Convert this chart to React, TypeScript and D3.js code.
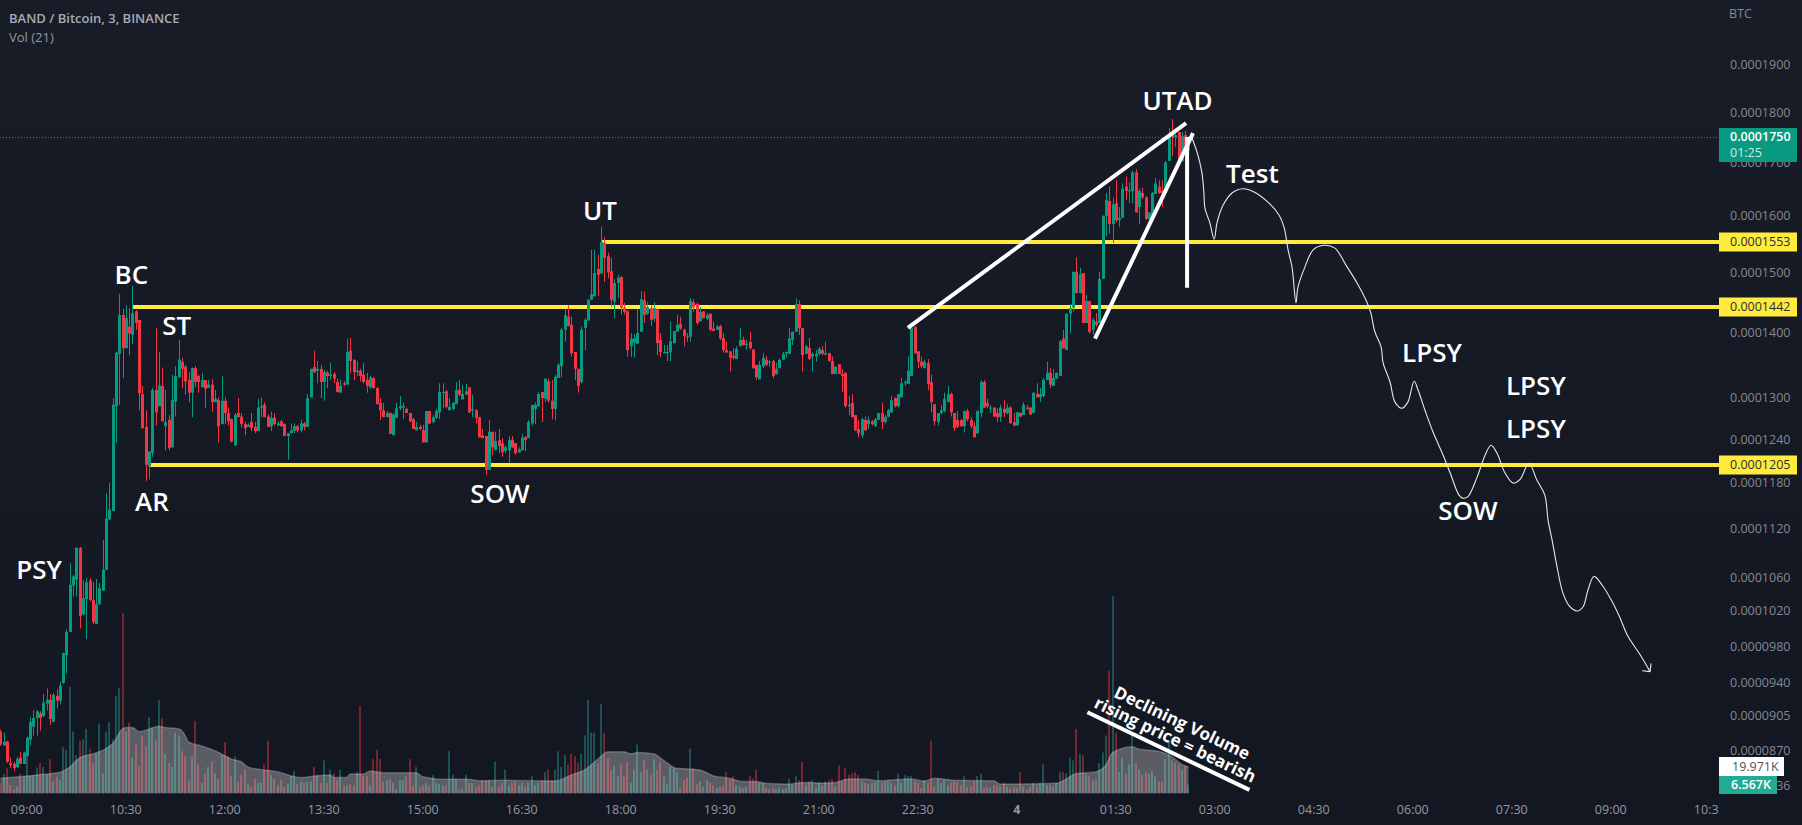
import { useEffect, useRef } from 'react';
import * as d3 from 'd3';

type Bar = [number, number, number, number];

const WIDTH = 1802;
const HEIGHT = 825;
const AXIS_X = 1719;

// prices are in units of 0.0000001 BTC, bars read as [open, high, low, close]
const barsA: Bar[] = [
  [889,891,875,876],[875,888,875,879],[879,880,858,859],[858,863,853,856],[857,859,850,853],
  [854,864,853,862],[863,869,857,857],[857,869,857,868],[865,884,864,883],[881,904,875,899],
  [894,911,885,903],[903,911,885,910],[908,910,890,903],[905,928,904,919],[918,934,911,922],
  [922,928,896,902],[899,929,899,927],[926,933,913,921],[921,941,917,937],[940,973,939,972],
  [970,999,950,996],[996,1077,996,1051],[1050,1063,1037,1061],[1057,1097,1037,1096],[1096,1097,1000,1014],
  [1016,1057,1015,1035],[1034,1059,988,1054],[1056,1059,1031,1033],[1033,1054,1005,1007],[1005,1058,1005,1028],
  [1028,1053,1027,1047],[1044,1106,1044,1069],[1069,1167,1069,1133],[1132,1180,1132,1145],[1143,1300,1143,1290],
  [1288,1370,1235,1369],[1367,1464,1290,1429],[1429,1439,1330,1376],[1376,1445,1376,1424],[1410,1440,1365,1399],
  [1397,1477,1383,1432],[1435,1437,1405,1416],[1421,1421,1282,1307],[1306,1318,1256,1256],[1258,1282,1183,1205],
  [1203,1224,1185,1223],[1221,1315,1216,1312],[1312,1408,1260,1279],[1288,1370,1288,1319],[1318,1346,1266,1266],
];
const barsB: Bar[] = [
  [1259,1312,1225,1265],[1268,1275,1225,1228],[1229,1335,1229,1297],[1295,1348,1273,1333],[1331,1389,1331,1358],
  [1355,1361,1315,1344],[1347,1350,1305,1325],[1327,1339,1294,1308],[1308,1346,1272,1345],[1345,1348,1316,1324],
  [1333,1335,1308,1324],[1316,1338,1316,1327],[1327,1327,1286,1314],[1315,1327,1315,1320],[1320,1328,1280,1294],
  [1294,1312,1294,1299],[1297,1301,1236,1259],[1262,1333,1262,1296],[1296,1301,1262,1278],[1278,1286,1260,1266],
  [1269,1270,1236,1237],[1232,1278,1231,1275],[1278,1300,1272,1272],[1273,1278,1257,1262],[1262,1265,1246,1256],
  [1258,1263,1258,1261],[1265,1278,1252,1256],[1258,1265,1249,1252],[1252,1299,1252,1286],[1286,1301,1272,1288],
  [1290,1294,1272,1272],[1273,1276,1258,1258],[1259,1280,1252,1271],[1271,1278,1260,1262],[1260,1266,1259,1263],
  [1266,1268,1258,1259],[1262,1263,1245,1245],[1245,1249,1212,1249],[1249,1263,1249,1253],[1252,1263,1249,1259],
  [1259,1261,1250,1253],[1253,1268,1250,1263],[1263,1265,1253,1258],[1258,1306,1258,1300],[1301,1344,1301,1344],
  [1347,1372,1337,1339],[1341,1356,1322,1344],[1344,1350,1300,1324],[1324,1342,1296,1339],[1338,1341,1315,1333],
];
const barsC: Bar[] = [
  [1333,1353,1327,1335],[1336,1339,1322,1329],[1324,1329,1308,1309],[1308,1327,1308,1318],[1322,1325,1318,1320],
  [1320,1391,1320,1370],[1372,1392,1337,1356],[1358,1358,1327,1339],[1339,1356,1333,1341],[1341,1344,1325,1333],
  [1335,1353,1322,1324],[1327,1338,1308,1318],[1316,1333,1314,1331],[1330,1331,1314,1315],[1315,1316,1291,1291],
  [1293,1300,1268,1282],[1282,1293,1272,1272],[1272,1281,1272,1278],[1278,1279,1248,1248],[1246,1278,1246,1276],
  [1271,1293,1271,1285],[1285,1303,1282,1288],[1286,1293,1269,1288],[1284,1286,1278,1278],[1278,1278,1265,1266],
  [1269,1271,1255,1255],[1253,1265,1253,1258],[1258,1261,1253,1255],[1253,1261,1236,1236],[1236,1281,1236,1281],
  [1281,1281,1262,1263],[1265,1275,1263,1272],[1271,1284,1269,1281],[1279,1322,1269,1309],[1308,1322,1285,1309],
  [1310,1312,1285,1287],[1282,1300,1282,1287],[1284,1294,1282,1293],[1291,1324,1291,1312],[1312,1327,1303,1305],
  [1298,1320,1298,1306],[1305,1321,1305,1310],[1316,1316,1278,1279],[1282,1305,1272,1284],[1282,1284,1263,1271],
  [1272,1272,1243,1243],[1246,1255,1242,1242],[1245,1245,1191,1198],[1198,1268,1198,1251],[1251,1251,1218,1229],
];
const barsD: Bar[] = [
  [1225,1251,1225,1238],[1239,1255,1221,1231],[1235,1242,1216,1222],[1224,1232,1221,1229],[1225,1245,1207,1239],
  [1240,1245,1228,1229],[1235,1235,1219,1221],[1222,1229,1221,1226],[1225,1248,1225,1243],[1243,1245,1224,1239],
  [1242,1268,1242,1265],[1263,1290,1260,1290],[1284,1294,1262,1290],[1288,1309,1287,1306],[1309,1309,1265,1300],
  [1299,1330,1294,1329],[1325,1329,1293,1296],[1296,1327,1269,1284],[1284,1335,1268,1332],[1330,1353,1330,1350],
  [1348,1408,1331,1405],[1405,1439,1386,1429],[1426,1445,1411,1411],[1413,1426,1363,1368],[1370,1370,1327,1344],
  [1344,1344,1308,1318],[1324,1410,1322,1405],[1408,1424,1373,1421],[1420,1455,1420,1454],[1454,1539,1454,1463],
  [1460,1539,1459,1499],[1506,1530,1460,1496],[1498,1580,1498,1553],[1551,1562,1484,1525],[1528,1534,1490,1500],
  [1502,1525,1442,1454],[1451,1489,1424,1482],[1482,1496,1457,1491],[1492,1494,1430,1441],[1441,1449,1430,1434],
  [1435,1437,1363,1373],[1379,1400,1362,1391],[1385,1398,1361,1391],[1383,1439,1383,1400],[1402,1468,1402,1455],
  [1453,1468,1416,1429],[1431,1450,1429,1442],[1440,1445,1411,1421],[1423,1450,1418,1440],[1438,1438,1365,1384],
];
const barsE: Bar[] = [
  [1389,1400,1362,1370],[1368,1381,1368,1370],[1369,1381,1356,1370],[1370,1418,1356,1387],[1384,1403,1383,1403],
  [1402,1429,1402,1413],[1415,1426,1405,1407],[1405,1407,1379,1395],[1394,1400,1386,1393],[1394,1457,1386,1452],
  [1450,1455,1434,1441],[1447,1449,1413,1416],[1419,1442,1418,1434],[1435,1435,1423,1424],[1423,1432,1421,1429],
  [1431,1431,1403,1405],[1407,1418,1403,1403],[1405,1413,1405,1410],[1411,1413,1389,1391],[1392,1400,1369,1373],
  [1373,1386,1369,1369],[1371,1371,1340,1361],[1364,1376,1358,1361],[1359,1379,1359,1375],[1379,1408,1379,1389],
  [1389,1394,1380,1381],[1381,1389,1373,1383],[1386,1402,1374,1376],[1374,1374,1344,1345],[1350,1350,1327,1331],
  [1328,1356,1328,1350],[1348,1368,1345,1361],[1358,1364,1348,1350],[1354,1358,1347,1355],[1356,1358,1330,1333],
  [1336,1353,1335,1344],[1345,1359,1345,1358],[1358,1370,1358,1367],[1368,1371,1361,1370],[1367,1408,1367,1391],
  [1389,1402,1381,1402],[1402,1456,1402,1447],[1447,1453,1397,1408],[1408,1408,1340,1365],[1367,1381,1367,1379],
  [1376,1392,1358,1359],[1363,1369,1340,1367],[1363,1373,1355,1367],[1367,1378,1365,1375],[1373,1379,1365,1367],
];
const barsF: Bar[] = [
  [1366,1386,1365,1368],[1368,1368,1355,1356],[1356,1363,1336,1336],[1336,1348,1336,1347],[1351,1351,1336,1336],
  [1336,1344,1309,1333],[1338,1338,1286,1288],[1290,1303,1275,1288],[1293,1306,1272,1272],[1275,1275,1252,1253],
  [1255,1268,1243,1249],[1246,1271,1242,1269],[1268,1273,1253,1253],[1262,1273,1255,1268],[1266,1268,1260,1262],
  [1259,1271,1258,1269],[1268,1278,1268,1278],[1278,1293,1255,1265],[1265,1275,1263,1272],[1272,1284,1272,1282],
  [1279,1303,1278,1297],[1300,1301,1286,1288],[1288,1306,1286,1306],[1301,1330,1301,1322],[1322,1327,1318,1324],
  [1321,1363,1321,1341],[1333,1411,1333,1408],[1410,1410,1367,1368],[1371,1371,1345,1355],[1355,1363,1345,1348],
  [1345,1358,1345,1355],[1353,1359,1312,1321],[1324,1335,1279,1294],[1291,1291,1260,1266],[1265,1278,1260,1278],
  [1278,1290,1276,1282],[1281,1308,1279,1299],[1294,1318,1294,1306],[1306,1308,1273,1279],[1278,1278,1252,1256],
  [1268,1281,1256,1258],[1268,1269,1258,1259],[1259,1282,1250,1281],[1281,1284,1266,1269],[1268,1272,1256,1259],
  [1259,1265,1243,1243],[1249,1282,1248,1281],[1278,1327,1272,1324],[1324,1327,1286,1286],[1293,1299,1285,1288],
];
const barsG: Bar[] = [
  [1285,1290,1278,1286],[1286,1286,1272,1273],[1278,1285,1265,1272],[1272,1290,1265,1286],[1284,1297,1272,1278],
  [1278,1291,1276,1286],[1286,1288,1263,1263],[1265,1278,1259,1260],[1260,1279,1260,1279],[1278,1279,1272,1273],
  [1275,1294,1275,1290],[1286,1290,1282,1284],[1286,1286,1275,1276],[1278,1308,1278,1308],[1306,1322,1301,1301],
  [1301,1315,1294,1306],[1303,1330,1301,1327],[1327,1355,1327,1338],[1338,1345,1315,1320],[1318,1344,1318,1330],
  [1329,1338,1329,1338],[1333,1389,1333,1387],[1391,1405,1375,1376],[1373,1432,1373,1431],[1431,1447,1400,1440],
  [1441,1501,1434,1501],[1501,1526,1465,1465],[1465,1508,1465,1497],[1499,1499,1416,1416],[1416,1462,1416,1452],
  [1452,1452,1399,1402],[1405,1424,1397,1421],[1418,1432,1410,1413],[1416,1501,1416,1489],[1489,1600,1489,1600],
  [1600,1642,1563,1629],[1627,1654,1568,1585],[1585,1633,1551,1621],[1623,1666,1588,1592],[1592,1616,1579,1596],
  [1596,1660,1596,1650],[1654,1673,1629,1646],[1645,1662,1623,1647],[1645,1685,1623,1681],[1681,1687,1606,1606],
  [1616,1650,1585,1646],[1642,1652,1631,1634],[1634,1636,1592,1594],[1594,1606,1592,1606],[1596,1644,1592,1642],
  [1640,1670,1640,1660],[1654,1666,1640,1642],[1646,1666,1616,1642],[1642,1703,1640,1700],[1703,1768,1703,1754],
  [1758,1786,1712,1750],[1750,1760,1730,1754],[1760,1760,1695,1705],[1703,1760,1701,1752],[1754,1762,1720,1722],
  [1724,1752,1720,1750],
];

// volume per bar, in thousands
const volumeK = [
  7.6,14.7,19,6.3,3,5,14.7,12.6,33.6,13.9,13.9,19.5,23,20,14,26,9,12.6,10,35,33,81,47,29,40,41,49,34,23,30,
  53,15,47,54,41,74,80,137,47,54,27,37,21,44,36,58,50,40,71,57,30,23,20,46,44,32,28,10,28,55,
  22,8,15,20,24,15,11,29,39,28,13,28,9,14,18,7,5,11,8,8,22,40,14,11,6,10,5,7,13,17,
  7,9,8,9,9,20,14,8,25,8,18,15,10,18,6,6,7,6,16,66,13,13,6,26,33,26,9,10,11,8,
  3,10,10,13,26,6,20,5,6,8,6,14,8,7,6,6,32,14,11,3,3,14,8,8,5,6,10,10,10,5,
  24,5,8,18,6,8,9,6,8,5,8,13,6,8,10,16,18,10,18,32,20,29,22,30,28,23,30,44,71,46,
  46,23,68,46,27,18,21,13,22,13,24,8,18,37,16,25,18,14,26,18,24,13,7,20,19,16,4,10,12,34,
  19,7,9,5,10,8,6,4,5,5,16,10,13,6,5,4,5,13,11,18,8,8,4,3,4,3,4,3,4,11,
  6,13,10,24,6,9,10,4,8,6,9,10,11,5,21,9,19,14,15,16,14,9,8,7,8,9,17,8,9,10,
  8,6,15,8,14,13,13,9,8,4,10,8,40,5,11,8,10,6,8,9,9,6,13,5,6,9,13,15,4,5,
  4,6,6,5,8,5,4,5,4,16,5,3,5,8,6,8,22,6,6,5,8,16,16,15,27,25,49,30,29,14,
  13,10,11,23,31,44,93,150,46,16,27,15,22,44,23,18,14,16,15,17,13,9,9,26,40,25,23,22,18,21,
  6.6,
];

// Vol SMA(21) outline as [bar, thousands]
const smaVolume = [
  [0,11.4],[9,13.4],[13,14.4],[18,16],[21,20],[24,27],[28,30],[32,34],[35,41],[36,46],[38,50],[40,50],[42,47],[44,48],
  [48,51],[50,50],[54,49],[56,44],[57,39],[61,36],[64,33.4],[67,30],[70,26],[73,24],[75,20],[79,18],[84,16.4],[88,13.4],
  [91,12],[96,13.4],[100,14],[101,12],[105,12],[106,14.7],[110,14.7],[112,17],[116,15.7],[122,15.7],[126,15.7],[128,12.6],
  [131,11.4],[133,10.6],[142,10.6],[145,9.6],[152,10],[168,9.4],[173,14],[177,17.7],[182,28],[184,31.6],[189,31.6],[191,30],
  [193,31],[198,30],[201,25],[205,19],[209,18.5],[212,17.7],[216,13.4],[221,11.4],[225,8.9],[229,8.9],[232,7.6],[238,7],
  [244,8.3],[249,7.8],[253,8.3],[257,10.9],[262,10.9],[266,9.6],[276,10.9],[280,9.4],[283,11.4],[289,10],[301,9.6],[303,7],
  [320,7.6],[322,9.4],[326,15],[332,16.4],[335,21.5],[337,31],[343,35.4],[345,33.6],[351,32],[355,27.8],[358,22],[360,20],
];

const priceTicks = [1900, 1800, 1700, 1600, 1500, 1400, 1300, 1240, 1180, 1120, 1060, 1020, 980, 940, 905, 870, 836];
const timeTicks = ['09:00', '10:30', '12:00', '13:30', '15:00', '16:30', '18:00', '19:30', '21:00', '22:30', '4', '01:30', '03:00', '04:30', '06:00', '07:30', '09:00', '10:30'];

const levels = [
  { price: 1553, fromBar: 182 },
  { price: 1442, fromBar: 40.2 },
  { price: 1205, fromBar: 45.3 },
];

const wedgeLines = [
  [[275, 1408], [359.3, 1778]],
  [[331.7, 1391], [361.4, 1758]],
  [[359.6, 1750], [359.6, 1474]],
];
const volumeTrend = [[329.4, 909], [378.5, 832]];

const labels = [
  { text: 'PSY', bar: 11.7, price: 1058 },
  { text: 'BC', bar: 39.7, price: 1480 },
  { text: 'ST', bar: 53.4, price: 1397 },
  { text: 'AR', bar: 45.9, price: 1143 },
  { text: 'SOW', bar: 151.4, price: 1153 },
  { text: 'UT', bar: 181.7, price: 1592 },
  { text: 'UTAD', bar: 356.7, price: 1805 },
  { text: 'Test', bar: 379.4, price: 1660 },
  { text: 'LPSY', bar: 433.8, price: 1355 },
  { text: 'LPSY', bar: 465.3, price: 1304 },
  { text: 'LPSY', bar: 465.3, price: 1242 },
  { text: 'SOW', bar: 444.7, price: 1131 },
];

// hand drawn projection after the last bar, [bar, price]
const projection = [
  [361.1,1748],[362.9,1714],[364.1,1680],[364.7,1642],[365,1614],[366.5,1587],[367.8,1558],[368.7,1588],[370.5,1619],
  [373.2,1642],[376.5,1650],[379.9,1644],[384.1,1625],[387.5,1601],[389,1579],[390.2,1539],[391.4,1509],[392.6,1449],
  [393.2,1475],[395.3,1509],[397.8,1539],[401.1,1547],[404.4,1542],[407.8,1512],[411.1,1482],[414.1,1450],[415.3,1432],
  [416.5,1402],[418.4,1378],[419,1353],[421.1,1324],[422.6,1294],[424.7,1285],[426.5,1294],[428.4,1325],[429.6,1312],
  [431.7,1282],[434.1,1251],[437.2,1218],[439.3,1194],[442,1164],[443.2,1160],[444.7,1162],[447.4,1187],[449.9,1218],
  [451.7,1232],[453.5,1221],[455.9,1194],[458.4,1180],[460.5,1185],[463.2,1207],[465.6,1184],[468,1164],[469,1131],
  [470.2,1106],[471.7,1073],[473.5,1041],[475.6,1025],[477.8,1020],[479.6,1025],[481.1,1045],[482.9,1061],[485.3,1051],
  [488.4,1031],[490.8,1012],[493.2,991],[496.8,971],[499.9,952],
];
const arrowHead = [[497.5, 953], [499.9, 952], [500.2, 961]];

const UP = '#089981';
const DOWN = '#f23645';
const YELLOW = '#ffeb3b';
const AXIS_FONT = '"Open Sans", sans-serif';

export default function App() {
  const svgRef = useRef<SVGSVGElement>(null);

  useEffect(() => {
    if (!svgRef.current) return;
    const svg = d3.select(svgRef.current);
    svg.selectAll('*').remove();

    const bars = [...barsA, ...barsB, ...barsC, ...barsD, ...barsE, ...barsF, ...barsG].map((b, i) => ({
      i, open: b[0], high: b[1], low: b[2], close: b[3], volume: volumeK[i] ?? 0,
    }));

    const x = d3.scaleLinear().domain([0, 360]).range([0.4, 1188.4]);
    const y = d3.scaleLog().domain([1800, 870]).range([112.3, 750.7]);
    const yVol = d3.scaleLinear().domain([0, 150]).range([793.3, 596]);
    const colorOf = (d: { open: number; close: number }) => (d.close >= d.open ? UP : DOWN);
    const fmt = (v: number) => (v * 1e-7).toFixed(7);

    const defs = svg.append('defs');
    const grad = defs.append('linearGradient').attr('id', 'bg').attr('x1', 0).attr('x2', 0).attr('y1', 0).attr('y2', 1);
    grad.append('stop').attr('offset', '0%').attr('stop-color', '#181c27');
    grad.append('stop').attr('offset', '100%').attr('stop-color', '#131722');
    defs.append('clipPath').attr('id', 'pane').append('rect').attr('width', AXIS_X).attr('height', HEIGHT);

    svg.append('rect').attr('width', WIDTH).attr('height', HEIGHT).attr('fill', 'url(#bg)');

    // Last price line
    svg.append('line')
      .attr('x1', 0).attr('x2', AXIS_X)
      .attr('y1', Math.round(y(1750)) + 0.5).attr('y2', Math.round(y(1750)) + 0.5)
      .attr('stroke', UP).attr('stroke-dasharray', '1 2');

    // Volume
    svg.append('g').selectAll('rect').data(bars).enter().append('rect')
      .attr('x', d => Math.round(x(d.i)) - 1)
      .attr('width', 2)
      .attr('y', d => yVol(d.volume))
      .attr('height', d => yVol(0) - yVol(d.volume))
      .attr('fill', d => (d.close >= d.open ? 'rgba(38,166,154,0.42)' : 'rgba(242,54,69,0.45)'));

    const smaArea = d3.area<number[]>()
      .x(d => x(d[0])).y0(yVol(0)).y1(d => yVol(d[1]))
      .curve(d3.curveMonotoneX);
    svg.append('path').datum(smaVolume).attr('d', smaArea).attr('fill', 'rgba(255,255,255,0.3)');
    svg.append('path').datum(smaVolume)
      .attr('d', d3.line<number[]>().x(d => x(d[0])).y(d => yVol(d[1])).curve(d3.curveMonotoneX))
      .attr('fill', 'none').attr('stroke', 'rgba(255,255,255,0.22)').attr('stroke-width', 1.5);

    // Range levels sit behind the candles
    svg.append('g').selectAll('line').data(levels).enter().append('line')
      .attr('x1', d => x(d.fromBar)).attr('x2', AXIS_X)
      .attr('y1', d => Math.round(y(d.price))).attr('y2', d => Math.round(y(d.price)))
      .attr('stroke', YELLOW).attr('stroke-width', 4);

    // Candles
    const candle = svg.append('g').selectAll('g').data(bars).enter().append('g');
    candle.append('rect')
      .attr('x', d => Math.round(x(d.i)))
      .attr('width', 1)
      .attr('y', d => y(d.high))
      .attr('height', d => Math.max(1, y(d.low) - y(d.high)))
      .attr('fill', colorOf);
    candle.append('rect')
      .attr('x', d => Math.round(x(d.i)) - 1)
      .attr('width', 3)
      .attr('y', d => y(Math.max(d.open, d.close)))
      .attr('height', d => Math.max(1, Math.abs(y(d.open) - y(d.close))))
      .attr('fill', colorOf);

    // Drawings
    const pt = d3.line<number[]>().x(d => x(d[0])).y(d => y(d[1]));
    svg.append('g').selectAll('path').data([...wedgeLines, volumeTrend]).enter().append('path')
      .attr('d', d => pt(d))
      .attr('stroke', '#fff').attr('stroke-width', 4).attr('fill', 'none');

    svg.append('path').datum(projection)
      .attr('d', d3.line<number[]>().x(d => x(d[0])).y(d => y(d[1])).curve(d3.curveCatmullRom))
      .attr('fill', 'none').attr('stroke', '#e8e8ea').attr('stroke-width', 1.1);
    svg.append('path').datum(arrowHead).attr('d', pt)
      .attr('fill', 'none').attr('stroke', '#e8e8ea').attr('stroke-width', 1.1);

    svg.append('g').selectAll('text').data(labels).enter().append('text')
      .attr('x', d => x(d.bar)).attr('y', d => y(d.price))
      .attr('text-anchor', 'middle')
      .attr('fill', '#fff')
      .style('font-family', AXIS_FONT).style('font-size', '26px').style('font-weight', 600)
      .text(d => d.text);

    const noteText = [
      { text: 'Declining Volume', bar: 358.1, price: 898 },
      { text: 'rising price = bearish', bar: 356, price: 881 },
    ];
    svg.append('g').selectAll('text').data(noteText).enter().append('text')
      .attr('transform', d => `translate(${x(d.bar)},${y(d.price)}) rotate(25.5)`)
      .attr('text-anchor', 'middle')
      .attr('dy', '.35em')
      .attr('fill', '#fff')
      .style('font-family', AXIS_FONT).style('font-size', '17px').style('font-weight', 700)
      .text(d => d.text);

    // Price axis
    const axisText = (g: any) => g
      .style('font-family', AXIS_FONT).style('font-size', '12.5px');
    svg.append('g').selectAll('text').data(priceTicks).enter().append('text')
      .attr('x', 1730).attr('y', d => y(d)).attr('dy', '.35em')
      .attr('fill', '#858893')
      .call(axisText)
      .text(d => fmt(d));
    svg.append('text').attr('x', 1729).attr('y', 14).attr('dy', '.35em').attr('fill', '#858893')
      .call(axisText).text('BTC');

    // Level tags
    const tag = svg.append('g').selectAll('g').data(levels).enter().append('g');
    tag.append('rect').attr('x', AXIS_X).attr('width', 78).attr('height', 19)
      .attr('y', d => Math.round(y(d.price)) - 9.5).attr('fill', YELLOW);
    tag.append('text').attr('x', 1730).attr('y', d => y(d.price)).attr('dy', '.35em')
      .attr('fill', '#2a2e39').call(axisText).text(d => fmt(d.price));

    // Last price tag
    svg.append('rect').attr('x', AXIS_X).attr('y', 128).attr('width', 78).attr('height', 34).attr('fill', UP);
    svg.append('text').attr('x', 1730).attr('y', y(1750)).attr('dy', '.35em').attr('fill', '#fff')
      .call(axisText).style('font-weight', 600).text(fmt(1750));
    svg.append('text').attr('x', 1730).attr('y', 153).attr('dy', '.35em').attr('fill', 'rgba(255,255,255,0.82)')
      .call(axisText).text('01:25');

    // Volume tags
    svg.append('rect').attr('x', AXIS_X).attr('y', 757).attr('width', 65).attr('height', 19).attr('fill', '#fff');
    svg.append('text').attr('x', 1732).attr('y', 766.5).attr('dy', '.35em').attr('fill', '#50535e')
      .call(axisText).text('19.971K');
    svg.append('rect').attr('x', AXIS_X).attr('y', 776).attr('width', 58).attr('height', 18).attr('fill', '#22ab94');
    svg.append('text').attr('x', 1731).attr('y', 785).attr('dy', '.35em').attr('fill', '#fff')
      .call(axisText).style('font-weight', 600).text('6.567K');

    // Time axis
    svg.append('g').attr('clip-path', 'url(#pane)').selectAll('text').data(timeTicks).enter().append('text')
      .attr('x', (_, i) => x(8 + i * 30)).attr('y', 810).attr('dy', '.35em')
      .attr('text-anchor', 'middle')
      .attr('fill', '#9598a1')
      .call(axisText)
      .style('font-weight', d => (d === '4' ? 700 : 400))
      .text(d => d);

    // Legend
    svg.append('text').attr('x', 9).attr('y', 23).attr('fill', '#a8abb5')
      .style('font-family', AXIS_FONT).style('font-size', '13px').style('font-weight', 600)
      .text('BAND / Bitcoin, 3, BINANCE');
    svg.append('text').attr('x', 9).attr('y', 42).attr('fill', '#9598a1')
      .style('font-family', AXIS_FONT).style('font-size', '13px')
      .text('Vol (21)');
  }, []);

  return (
    <svg
      ref={svgRef}
      width={WIDTH}
      height={HEIGHT}
      style={{ position: 'absolute', left: 0, top: 0, display: 'block' }}
    />
  );
}
